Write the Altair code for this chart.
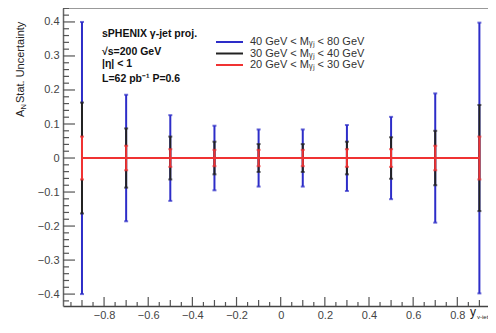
import altair as alt
import pandas as pd

# ---- data ----
x_pos = [-0.9, -0.7, -0.5, -0.3, -0.1, 0.1, 0.3, 0.5, 0.7, 0.9]
err_40_80 = [0.400, 0.186, 0.126, 0.095, 0.084, 0.084, 0.097, 0.121, 0.190, 0.398]
err_30_40 = [0.163, 0.087, 0.063, 0.048, 0.041, 0.041, 0.048, 0.061, 0.080, 0.156]
err_20_30 = [0.063, 0.036, 0.026, 0.024, 0.024, 0.024, 0.026, 0.026, 0.036, 0.063]

series_labels = ["40 GeV < Mᵧⱼ < 80 GeV", "30 GeV < Mᵧⱼ < 40 GeV", "20 GeV < Mᵧⱼ < 30 GeV"]
series_errs = [err_40_80, err_30_40, err_20_30]
series_colors = ["#2d2dc8", "#222222", "#f03232"]

info_lines = ["sPHENIX  γ-jet proj.", "√s=200 GeV", "|η| < 1", "L=62 pb⁻¹  P=0.6"]

y_major = [-0.4, -0.3, -0.2, -0.1, 0.0, 0.1, 0.2, 0.3, 0.4]
y_minor = [round(-0.42 + 0.02 * i, 2) for i in range(44)]
y_minor = [v for v in y_minor if all(abs(v - m) > 1e-6 for m in y_major)]
x_major = [-0.8, -0.6, -0.4, -0.2, 0.0, 0.2, 0.4, 0.6, 0.8]
x_mid = [-0.9, -0.7, -0.5, -0.3, -0.1, 0.1, 0.3, 0.5, 0.7, 0.9]
x_minor = [round(-0.95 + 0.1 * i, 2) for i in range(20)]

W, H = 425, 298
FONT = "Liberation Sans"

xscale = alt.Scale(domain=[-0.986, 0.939], nice=False, zero=False)
yscale = alt.Scale(domain=[-0.435, 0.441], nice=False, zero=False)

xaxis = alt.Axis(values=x_major, format=".1~f", title=None, grid=False, ticks=False,
                 labelPadding=3, labelFontSize=11, labelColor="#444", labelFont=FONT,
                 domainColor="#444", domainWidth=1.5)
yaxis = alt.Axis(values=y_major, format=".1~f", title=None, grid=False, ticks=False,
                 labelPadding=4, labelFontSize=11, labelColor="#444", labelFont=FONT,
                 domainColor="#666", domainWidth=1.5)


def X(field):
    return alt.X(field, type="quantitative", scale=xscale, axis=xaxis)


def Y(field):
    return alt.Y(field, type="quantitative", scale=yscale, axis=yaxis)


layers = []

# top frame line
layers.append(alt.Chart(pd.DataFrame({"t": ["frame"]})).mark_rule(color="#999", strokeWidth=2).encode(
    x=alt.value(0), x2=alt.value(W), y=alt.value(0)))

# tick marks drawn inside the frame (ROOT style)
def ytick_layer(vals, length):
    df = pd.DataFrame({"v": vals})
    return alt.Chart(df).mark_rule(color="#555", strokeWidth=1.2).encode(
        y=Y("v"), x=alt.value(0), x2=alt.value(length))


def xtick_layer(vals, length):
    df = pd.DataFrame({"v": vals})
    return alt.Chart(df).mark_rule(color="#555", strokeWidth=1.2).encode(
        x=X("v"), y=alt.value(H), y2=alt.value(H - length))


layers += [ytick_layer(y_major, 12), ytick_layer(y_minor, 6),
           xtick_layer(x_major, 9), xtick_layer(x_mid, 6), xtick_layer(x_minor, 4)]

# error bars
for lab, errs, col in zip(series_labels, series_errs, series_colors):
    df = pd.DataFrame({"x": x_pos, "lo": [-e for e in errs], "hi": errs})
    base = alt.Chart(df)
    layers.append(base.mark_rule(color=col, strokeWidth=2).encode(x=X("x"), y=Y("lo"), y2="hi"))
    layers.append(base.mark_tick(color=col, orient="horizontal", size=4, thickness=2).encode(x=X("x"), y=Y("hi")))
    layers.append(base.mark_tick(color=col, orient="horizontal", size=4, thickness=2).encode(x=X("x"), y=Y("lo")))

# red line joining the lowest-mass points at zero
red_df = pd.DataFrame({"x": x_pos, "zero": [0.0] * len(x_pos)})
layers.append(alt.Chart(red_df).mark_line(color=series_colors[2], strokeWidth=2).encode(x=X("x"), y=Y("zero")))

# info text
info_y = [26, 44, 56, 71]
for txt, yy in zip(info_lines, info_y):
    layers.append(alt.Chart(pd.DataFrame({"t": [txt]})).mark_text(
        align="left", baseline="middle", font=FONT, fontSize=10.5, fontWeight="bold", color="#111"
    ).encode(text="t:N", x=alt.value(39), y=alt.value(yy)))

# legend
leg_y = [34, 45.5, 57]
for lab, col, yy in zip(series_labels, series_colors, leg_y):
    one = pd.DataFrame({"t": [lab]})
    layers.append(alt.Chart(one).mark_rule(color=col, strokeWidth=2).encode(
        x=alt.value(153), x2=alt.value(180), y=alt.value(yy)))
    layers.append(alt.Chart(one).mark_text(
        align="left", baseline="middle", font=FONT, fontSize=11, color="#333"
    ).encode(text="t:N", x=alt.value(187), y=alt.value(yy)))

# y axis title: A_N Stat. Uncertainty (rotated)
layers.append(alt.Chart(pd.DataFrame({"t": ["A"]})).mark_text(
    align="left", baseline="middle", angle=270, font=FONT, fontSize=11, color="#222"
).encode(text="t:N", x=alt.value(-42), y=alt.value(109)))
layers.append(alt.Chart(pd.DataFrame({"t": ["N"]})).mark_text(
    align="left", baseline="middle", angle=270, font=FONT, fontSize=7.5, color="#222"
).encode(text="t:N", x=alt.value(-39), y=alt.value(101.5)))
layers.append(alt.Chart(pd.DataFrame({"t": ["Stat. Uncertainty"]})).mark_text(
    align="left", baseline="middle", angle=270, font=FONT, fontSize=11, color="#222"
).encode(text="t:N", x=alt.value(-42), y=alt.value(95)))

# x axis title: y_{γ-jet}
layers.append(alt.Chart(pd.DataFrame({"t": ["y"]})).mark_text(
    align="left", baseline="alphabetic", font=FONT, fontSize=12, color="#222"
).encode(text="t:N", x=alt.value(407), y=alt.value(308)))
layers.append(alt.Chart(pd.DataFrame({"t": ["γ-jet"]})).mark_text(
    align="left", baseline="alphabetic", font=FONT, fontSize=6, color="#222"
).encode(text="t:N", x=alt.value(414), y=alt.value(311)))

chart = alt.layer(*layers).properties(
    width=W, height=H,
    padding={"left": 55, "top": 0, "right": 0, "bottom": 13},
    autosize=alt.AutoSizeParams(type="none"),
    background="white",
).configure_view(stroke=None)

chart.save("out.html", embed_options={"renderer": "svg", "actions": False})
